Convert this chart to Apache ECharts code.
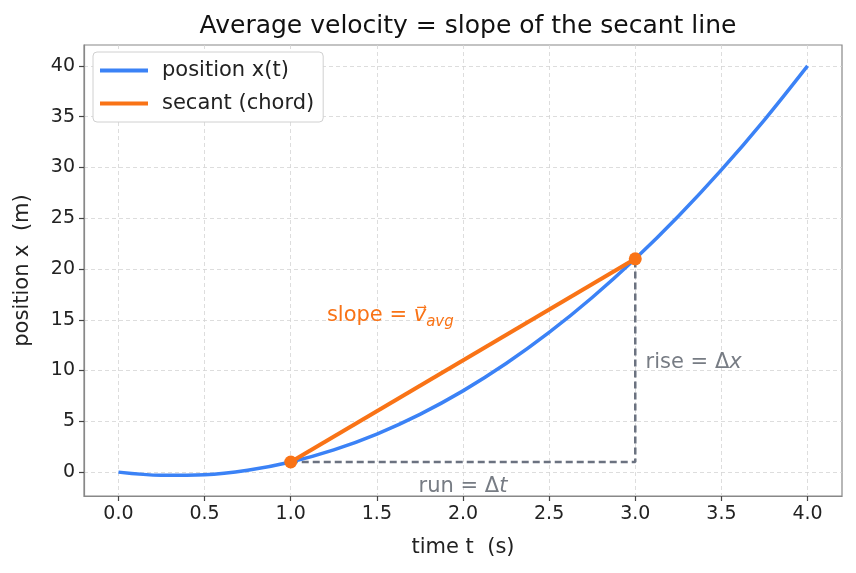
<!DOCTYPE html>
<html>
<head>
<meta charset="utf-8">
<script src="https://cdn.jsdelivr.net/npm/echarts@6/dist/echarts.min.js"></script>
<style>
  html, body { margin: 0; padding: 0; background: #fff; }
  #chart { width: 856px; height: 573px; }
</style>
</head>
<body>
<div id="chart"></div>
<script>
// position curve
const times = [0, 0.25, 0.5, 0.75, 1, 1.25, 1.5, 1.75, 2, 2.25, 2.5, 2.75, 3, 3.25, 3.5, 3.75, 4]
const positions = [0, -0.31, -0.25, 0.19, 1, 2.19, 3.75, 5.69, 8, 10.69, 13.75, 17.19, 21, 25.19, 29.75, 34.69, 40]

// secant end points
const secantT = [1, 3]
const secantX = [1, 21]

// run / rise guide
const guideT = [1, 3, 3]
const guideX = [1, 1, 21]

const xTicks = [0, 0.5, 1, 1.5, 2, 2.5, 3, 3.5, 4]
const yTicks = [0, 5, 10, 15, 20, 25, 30, 35, 40]

const BLUE = '#3b82f6'
const ORANGE = '#f97316'
const GRAY = '#6b7280'
const NOTE_GRAY = '#777c84'
const FONT = 'DejaVu Sans'

const chart = echarts.init(document.getElementById('chart'), null, { renderer: 'canvas' })

const zip = (a, b) => a.map((v, i) => [v, b[i]])

chart.setOption({
  animation: false,
  backgroundColor: '#fff',
  textStyle: { fontFamily: FONT },
  title: {
    text: 'Average velocity = slope of the secant line',
    left: 463, top: 9, textAlign: 'center',
    textStyle: { fontFamily: FONT, fontSize: 25, fontWeight: 'normal', color: '#111' },
  },
  legend: {
    left: 93, top: 52, orient: 'vertical',
    data: ['position x(t)', 'secant (chord)'],
    icon: 'rect', itemWidth: 48, itemHeight: 4, itemGap: 12,
    padding: [8, 9, 8, 7],
    backgroundColor: '#fff', borderColor: '#d0d0d0', borderWidth: 1, borderRadius: 4,
    textStyle: { fontFamily: FONT, fontSize: 21, color: '#222', padding: [0, 0, 0, 9] },
  },
  grid: { left: 84, right: 14, top: 45, bottom: 77, show: true, borderColor: '#888', borderWidth: 1.2, backgroundColor: 'transparent' },
  xAxis: {
    type: 'value', min: -0.2, max: 4.2,
    name: 'time t  (s)', nameLocation: 'middle', nameGap: 41,
    nameTextStyle: { fontFamily: FONT, fontSize: 21, color: '#222' },
    axisLine: { show: true, onZero: false, lineStyle: { color: '#888', width: 1.2 } },
    axisTick: { show: true, inside: false, length: 5, customValues: xTicks, lineStyle: { color: '#444', width: 1.2 } },
    axisLabel: { customValues: xTicks, formatter: v => v.toFixed(1), color: '#222', fontSize: 19, margin: 9, fontFamily: FONT },
    splitLine: { show: true, lineStyle: { color: '#d4d4d4', type: [4, 3], width: 0.8 } },
  },
  yAxis: {
    type: 'value', min: -2.35, max: 42.05,
    name: 'position x  (m)', nameLocation: 'middle', nameGap: 51, nameRotate: 90,
    nameTextStyle: { fontFamily: FONT, fontSize: 21, color: '#222' },
    axisLine: { show: true, onZero: false, lineStyle: { color: '#888', width: 1.2 } },
    axisTick: { show: true, inside: false, length: 5, customValues: yTicks, lineStyle: { color: '#444', width: 1.2 } },
    axisLabel: { customValues: yTicks, color: '#222', fontSize: 19, margin: 9, fontFamily: FONT },
    splitLine: { show: true, lineStyle: { color: '#d4d4d4', type: [4, 3], width: 0.8 } },
  },
  series: [
    {
      name: 'guide', type: 'line', data: zip(guideT, guideX),
      symbol: 'none', lineStyle: { color: GRAY, width: 2.5, type: [7, 4] }, z: 2,
    },
    {
      name: 'position x(t)', type: 'line', data: zip(times, positions),
      smooth: 0.35, symbol: 'none', color: BLUE, lineStyle: { color: BLUE, width: 3.5 }, z: 3,
    },
    {
      name: 'secant (chord)', type: 'line', data: zip(secantT, secantX),
      symbol: 'circle', symbolSize: 13, color: ORANGE,
      itemStyle: { color: ORANGE }, lineStyle: { color: ORANGE, width: 4 }, z: 4,
    },
    {
      name: 'notes', type: 'scatter', symbolSize: 0, z: 5, silent: true,
      itemStyle: { opacity: 1 },
      data: [
        {
          value: [1.21, 15.4],
          label: {
            show: true, position: 'inside', align: 'left', verticalAlign: 'middle', opacity: 1,
            formatter: '{a|slope = }{v|v\u20d7}{s|avg}',
            rich: {
              a: { color: ORANGE, fontSize: 21, fontFamily: FONT },
              v: { color: ORANGE, fontSize: 21, fontFamily: FONT, fontStyle: 'italic' },
              s: { color: ORANGE, fontSize: 15, fontFamily: FONT, fontStyle: 'italic', padding: [12, 0, 0, 0] },
            },
          },
        },
        {
          value: [3.06, 10.8],
          label: {
            show: true, position: 'inside', align: 'left', verticalAlign: 'middle', opacity: 1,
            formatter: '{a|rise = Δ}{b|x}',
            rich: {
              a: { color: NOTE_GRAY, fontSize: 21, fontFamily: FONT },
              b: { color: NOTE_GRAY, fontSize: 21, fontFamily: FONT, fontStyle: 'italic' },
            },
          },
        },
        {
          value: [2.0, -1.45],
          label: {
            show: true, position: 'inside', align: 'center', verticalAlign: 'middle', opacity: 1,
            formatter: '{a|run = Δ}{b|t}',
            rich: {
              a: { color: NOTE_GRAY, fontSize: 21, fontFamily: FONT },
              b: { color: NOTE_GRAY, fontSize: 21, fontFamily: FONT, fontStyle: 'italic' },
            },
          },
        },
      ],
    },
  ],
})
</script>
</body>
</html>
